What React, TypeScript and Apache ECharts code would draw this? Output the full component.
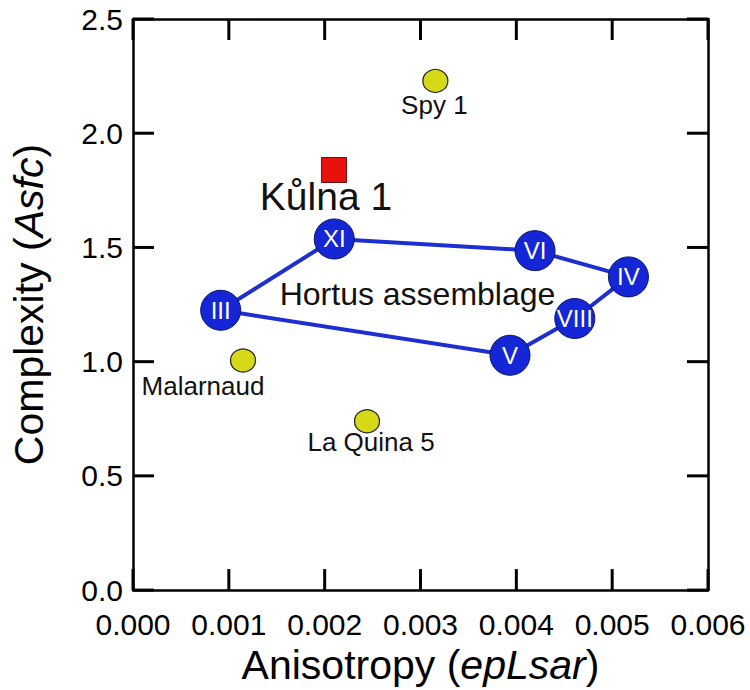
import React, { useEffect, useRef } from "react";
import * as echarts from "echarts";

const xTicks = [0, 0.001, 0.002, 0.003, 0.004, 0.005, 0.006];
const yTicks = [0, 0.5, 1.0, 1.5, 2.0, 2.5];

const hortusNames = ["III", "XI", "VI", "IV", "VIII", "V"];
const hortusX = [0.000915, 0.0021, 0.004195, 0.00517, 0.00461, 0.003934];
const hortusY = [1.225, 1.537, 1.486, 1.371, 1.189, 1.028];

const otherNames = ["Spy 1", "Malarnaud", "La Quina 5"];
const otherX = [0.003155, 0.001148, 0.002442];
const otherY = [2.229, 1.005, 0.739];

const kulnaName = "Kůlna 1";
const kulnaX = [0.002097];
const kulnaY = [1.839];

const hortusLabel = "Hortus assemblage";
const hortusLabelX = 0.002969;
const hortusLabelY = 1.295;

const FONT = '"Liberation Sans", Arial, Helvetica, sans-serif';

export default function App() {
  const ref = useRef<HTMLDivElement>(null);
  useEffect(() => {
    document.body.style.margin = "0";
    const chart = echarts.init(ref.current!, null, { renderer: "svg" });
    const xMin = xTicks[0];
    const xMax = xTicks[xTicks.length - 1];
    const yMin = yTicks[0];
    const yMax = yTicks[yTicks.length - 1];
    const otherOffsets = [
      [-1, 24],
      [-40, 25],
      [4, 21],
    ];
    const axisLine = () => ({ show: true, onZero: false, lineStyle: { color: "#000", width: 2.5 } });
    const nameRich = () => ({
      rich: {
        n: { fontSize: 41, color: "#000", fontFamily: FONT },
        i: { fontSize: 41, color: "#000", fontStyle: "italic", fontFamily: FONT },
      },
    });
    const hidden = () => ({ show: false });
    chart.setOption({
      animation: false,
      grid: { left: 133, top: 19, width: 575, height: 572 },
      xAxis: [
        {
          type: "value",
          min: xMin,
          max: xMax,
          interval: 0.001,
          position: "bottom",
          axisLine: axisLine(),
          axisTick: hidden(),
          splitLine: hidden(),
          axisLabel: {
            color: "#000",
            fontSize: 30,
            fontFamily: FONT,
            margin: 19,
            formatter: (v: number) => v.toFixed(3),
          },
          name: "{n|Anisotropy (}{i|epLsar}{n|)}",
          nameLocation: "middle",
          nameGap: 52,
          nameTextStyle: nameRich(),
        },
        {
          type: "value",
          min: xMin,
          max: xMax,
          interval: 0.001,
          position: "top",
          axisLine: axisLine(),
          axisTick: hidden(),
          axisLabel: hidden(),
          splitLine: hidden(),
        },
      ],
      yAxis: [
        {
          type: "value",
          min: yMin,
          max: yMax,
          interval: 0.5,
          position: "left",
          axisLine: axisLine(),
          axisTick: hidden(),
          splitLine: hidden(),
          axisLabel: {
            color: "#000",
            fontSize: 30,
            fontFamily: FONT,
            margin: 10,
            formatter: (v: number) => v.toFixed(1),
          },
          name: "{n|Complexity (}{i|Asfc}{n|)}",
          nameLocation: "middle",
          nameGap: 84,
          nameTextStyle: nameRich(),
        },
        {
          type: "value",
          min: yMin,
          max: yMax,
          interval: 0.5,
          position: "right",
          axisLine: axisLine(),
          axisTick: hidden(),
          axisLabel: hidden(),
          splitLine: hidden(),
        },
      ],
      series: [
        {
          type: "line",
          data: [...hortusX.map((x, i) => [x, hortusY[i]]), [hortusX[0], hortusY[0]]],
          symbol: "none",
          lineStyle: { color: "#1e2fd2", width: 4 },
          z: 2,
        },
        {
          type: "scatter",
          data: hortusX.map((x, i) => ({ value: [x, hortusY[i]], name: hortusNames[i] })),
          symbol: "circle",
          symbolSize: 40,
          itemStyle: { color: "#1426d6", borderColor: "#0d1566", borderWidth: 1, opacity: 1 },
          label: {
            show: true,
            position: "inside",
            formatter: (p: any) => p.name,
            color: "#fff",
            fontSize: 24,
            fontFamily: FONT,
          },
          z: 3,
        },
        {
          type: "scatter",
          data: otherX.map((x, i) => ({
            value: [x, otherY[i]],
            name: otherNames[i],
            label: { offset: otherOffsets[i] },
          })),
          symbol: "circle",
          symbolSize: [25, 23],
          itemStyle: { color: "#d6d915", borderColor: "#222", borderWidth: 1.2, opacity: 1 },
          label: {
            show: true,
            position: "inside",
            formatter: (p: any) => p.name,
            color: "#111",
            fontSize: 26,
            fontFamily: FONT,
          },
          z: 3,
        },
        {
          type: "scatter",
          data: kulnaX.map((x, i) => ({ value: [x, kulnaY[i]], name: kulnaName })),
          symbol: "rect",
          symbolSize: 25,
          itemStyle: { color: "#e8120c", borderColor: "#6a1010", borderWidth: 1, opacity: 1 },
          label: {
            show: true,
            position: "inside",
            offset: [-8, 27],
            formatter: (p: any) => p.name,
            color: "#111",
            fontSize: 39,
            fontFamily: FONT,
          },
          z: 3,
        },
        {
          type: "scatter",
          data: [{ value: [hortusLabelX, hortusLabelY], name: hortusLabel }],
          symbol: "circle",
          symbolSize: 2,
          itemStyle: { color: "rgba(255,255,255,0)", opacity: 1 },
          label: {
            show: true,
            position: "inside",
            formatter: (p: any) => p.name,
            color: "#111",
            fontSize: 32,
            fontFamily: FONT,
          },
          z: 4,
        },
      ],
    });

    // Inward tick marks on all four sides, positioned through the chart's own scales.
    const TL = 21;
    const els: any[] = [];
    const style = { stroke: "#000", lineWidth: 3 };
    xTicks.forEach((v) => {
      const b = chart.convertToPixel({ gridIndex: 0 }, [v, yMin]) as number[];
      const t = chart.convertToPixel({ gridIndex: 0 }, [v, yMax]) as number[];
      els.push({ type: "line", z: 100, shape: { x1: b[0], y1: b[1], x2: b[0], y2: b[1] - TL }, style: { ...style } });
      els.push({ type: "line", z: 100, shape: { x1: t[0], y1: t[1], x2: t[0], y2: t[1] + TL }, style: { ...style } });
    });
    yTicks.forEach((v) => {
      const l = chart.convertToPixel({ gridIndex: 0 }, [xMin, v]) as number[];
      const r = chart.convertToPixel({ gridIndex: 0 }, [xMax, v]) as number[];
      els.push({ type: "line", z: 100, shape: { x1: l[0], y1: l[1], x2: l[0] + TL, y2: l[1] }, style: { ...style } });
      els.push({ type: "line", z: 100, shape: { x1: r[0], y1: r[1], x2: r[0] - TL, y2: r[1] }, style: { ...style } });
    });
    chart.setOption({ graphic: { elements: els } });

    return () => chart.dispose();
  }, []);
  return (
    <div
      ref={ref}
      style={{ width: 750, height: 690, position: "absolute", left: 0, top: 0, background: "#fff" }}
    />
  );
}
